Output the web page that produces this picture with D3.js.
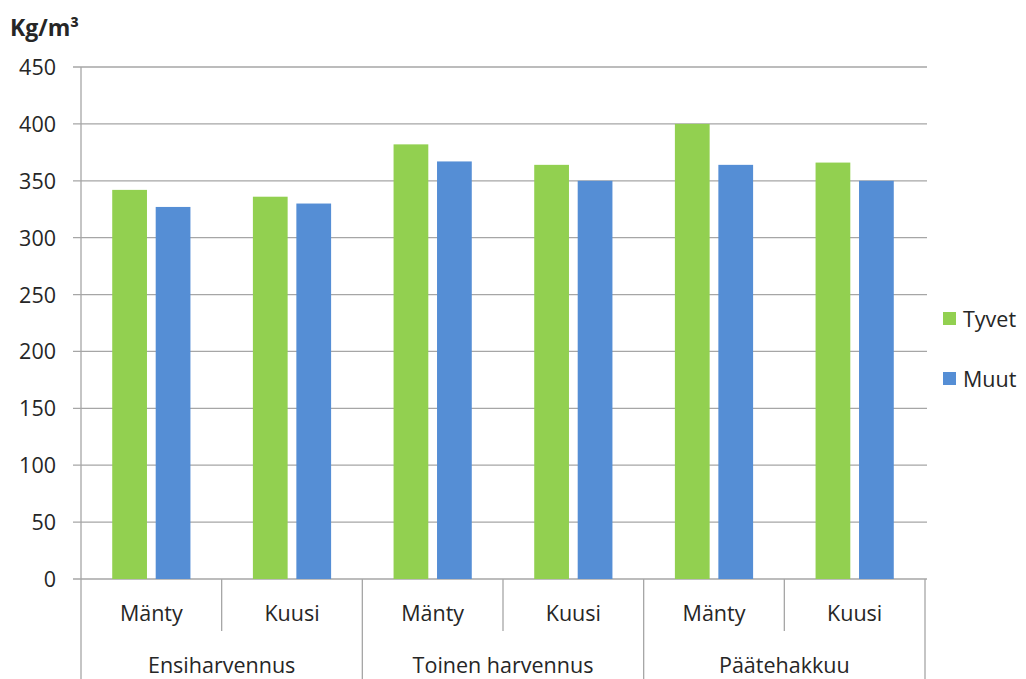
<!DOCTYPE html>
<html><head><meta charset="utf-8">
<script src="https://cdn.jsdelivr.net/npm/d3@7"></script>
<style>body{margin:0;background:#fff;} text{font-family:"Open Sans",sans-serif;fill:#262626;}</style>
</head><body><svg id="c" width="1026" height="679"></svg>
<script>
const groups = ["Ensiharvennus","Toinen harvennus","Päätehakkuu"];
const species = ["Mänty","Kuusi"];
const seriesNames = ["Tyvet","Muut"];
const tyvet = [342,336,382,364,400,366];
const muut = [327,330,367,350,364,350];
const yTicks = [0,50,100,150,200,250,300,350,400,450];
const colors = ["#92D050","#558ED5"];

(function(){
const svg = d3.select("#c");
const pl=81, pr=925, pt=67, pb=579;
const cats = [];
groups.forEach(g=>species.forEach(s=>cats.push(g+"|"+s)));
const x = d3.scaleBand().domain(cats).range([pl,pr]);
const y = d3.scaleLinear().domain([0,450]).range([pb,pt]);
const bw = x.bandwidth();
const barW = bw*0.247, gap = bw*0.062;
const off = (bw - (barW*2+gap))/2;
const sub = d3.scaleBand().domain(seriesNames).range([off, off+barW*2+gap]).paddingInner(gap/(barW+gap));
const fs = 21.5;

svg.append("g").selectAll("line").data(yTicks).join("line")
  .attr("x1",pl-8).attr("x2",pr+2).attr("y1",d=>y(d)).attr("y2",d=>y(d))
  .attr("stroke","#A6A6A6").attr("stroke-width",1.3);
svg.append("line").attr("x1",pl).attr("x2",pl).attr("y1",pt).attr("y2",679).attr("stroke","#A6A6A6").attr("stroke-width",1.3);
svg.append("g").selectAll("text").data(yTicks).join("text")
  .attr("x",56).attr("y",d=>y(d)+8).attr("text-anchor","end").attr("font-size",fs).text(d=>d);

const data = [tyvet, muut];
data.forEach((arr,si)=>{
  svg.append("g").selectAll("rect").data(arr).join("rect")
    .attr("x",(d,i)=>x(cats[i])+sub(seriesNames[si]))
    .attr("width",sub.bandwidth())
    .attr("y",d=>y(d)).attr("height",d=>pb-y(d))
    .attr("fill",colors[si]);
});

cats.forEach((c,i)=>{
  const xe = x(c)+bw;
  const isGroupEnd = (i%2===1);
  svg.append("line").attr("x1",xe).attr("x2",xe).attr("y1",pb).attr("y2",isGroupEnd?679:631)
    .attr("stroke","#A6A6A6").attr("stroke-width",1.3);
  svg.append("text").attr("x",x(c)+bw/2).attr("y",621).attr("text-anchor","middle").attr("font-size",fs).text(c.split("|")[1]);
});
groups.forEach((g,gi)=>{
  const x0 = x(cats[gi*2]), x1 = x(cats[gi*2+1])+bw;
  svg.append("text").attr("x",(x0+x1)/2).attr("y",673).attr("text-anchor","middle").attr("font-size",fs).text(g);
});

svg.append("text").attr("x",10).attr("y",36).attr("font-size",23).attr("font-weight","bold").text("Kg/m³");

seriesNames.forEach((n,i)=>{
  const yy = 319 + i*60;
  svg.append("rect").attr("x",943).attr("y",yy-7).attr("width",13).attr("height",13).attr("fill",colors[i]);
  svg.append("text").attr("x",963).attr("y",yy+8).attr("font-size",fs).text(n);
});
})();
</script></body></html>
